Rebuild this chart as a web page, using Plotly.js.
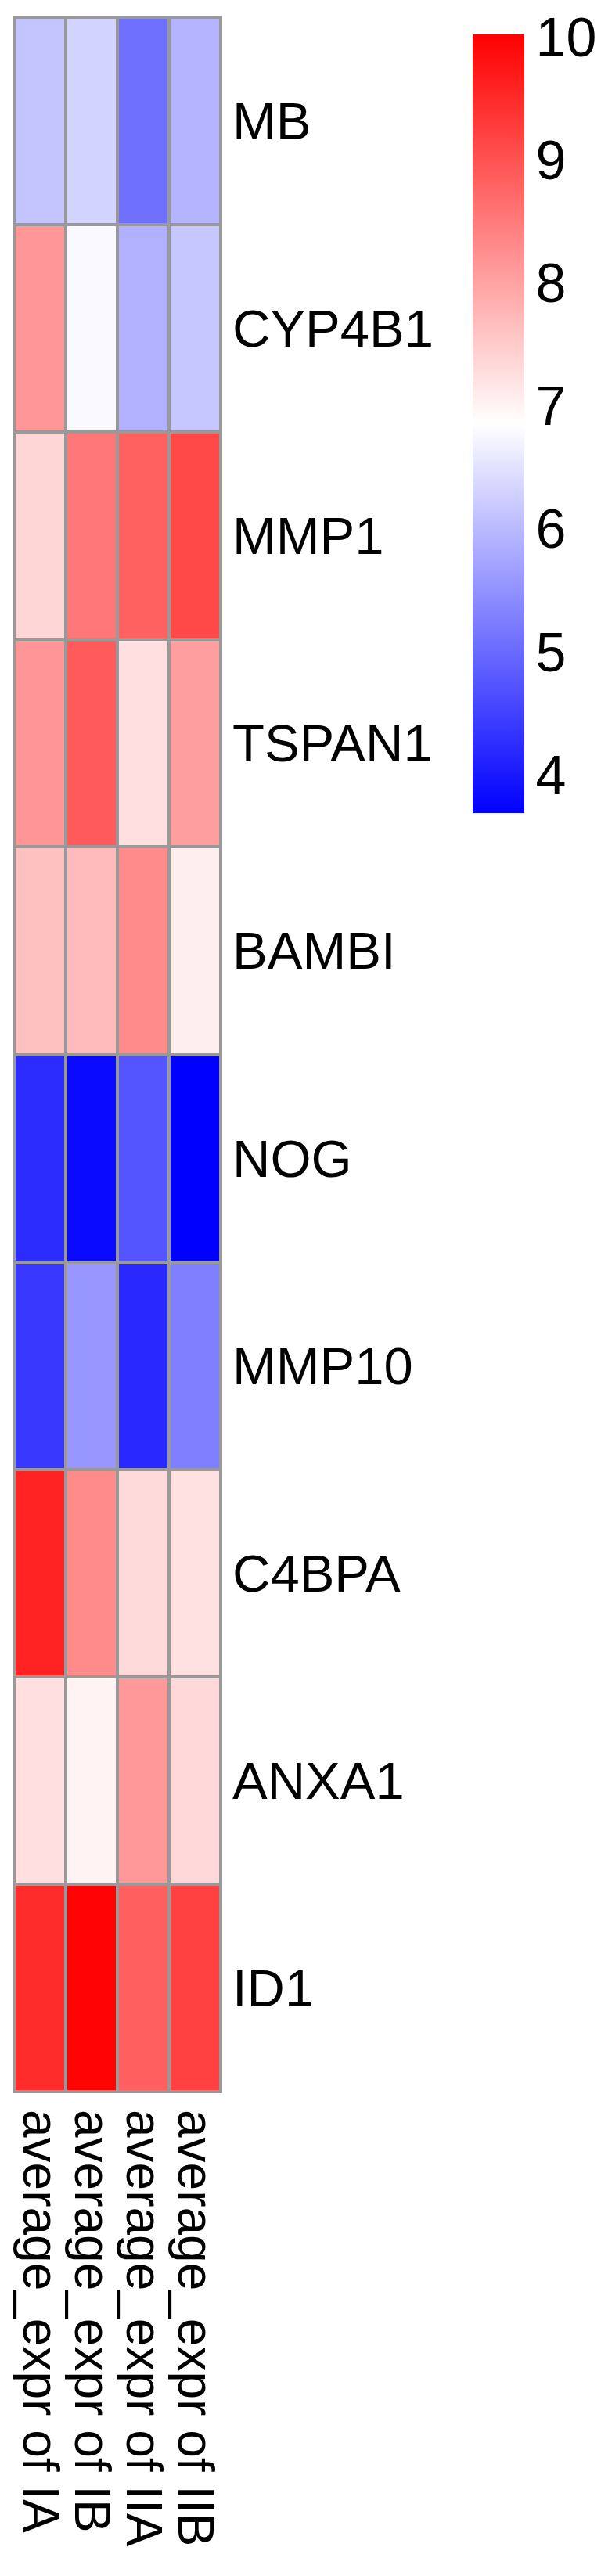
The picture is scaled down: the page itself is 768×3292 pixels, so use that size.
<!DOCTYPE html>
<html>
<head>
<meta charset="utf-8">
<script src="https://cdn.plot.ly/plotly-3.0.1.min.js"></script>
<style>
  html, body { margin: 0; padding: 0; background: #fff; }
  #chart { width: 768px; height: 3292px; }
</style>
</head>
<body>
<div id="chart"></div>
<script>
// samples (columns) and genes (rows, top to bottom)
var samples = ['average_expr of IA', 'average_expr of IB', 'average_expr of IIA', 'average_expr of IIB'];
var genes = ['MB', 'CYP4B1', 'MMP1', 'TSPAN1', 'BAMBI', 'NOG', 'MMP10', 'C4BPA', 'ANXA1', 'ID1'];

// expression per sample, one value per gene
var exprIA  = [6.12, 8.14, 7.36, 8.16, 7.64, 4.23, 4.38, 9.58, 7.25, 9.48];
var exprIB  = [6.31, 6.78, 8.55, 8.89, 7.70, 3.81, 5.57, 8.29, 7.01, 10.0];
var exprIIA = [5.08, 5.89, 8.81, 7.25, 8.29, 4.75, 4.19, 7.32, 8.12, 8.84];
var exprIIB = [5.92, 6.16, 9.11, 8.06, 7.06, 3.69, 5.27, 7.23, 7.33, 9.21];

var cbTicks = [4, 5, 6, 7, 8, 9, 10];

// build z as rows = genes
var cols = [exprIA, exprIB, exprIIA, exprIIB];
var z = genes.map(function (g, i) {
    return cols.map(function (c) { return c[i]; });
});

var font = 'Liberation Sans, Arial, sans-serif';

var trace = {
    type: 'heatmap',
    x: samples,
    y: genes,
    z: z,
    zmin: 3.69,
    zmax: 10.02,
    xgap: 4,
    ygap: 4,
    colorscale: [[0, '#0000FF'], [0.5, '#FFFFFF'], [1, '#FF0000']],
    colorbar: {
        thickness: 66,
        thicknessmode: 'pixels',
        len: 995,
        lenmode: 'pixels',
        x: (604 - 18) / 264,
        xanchor: 'left',
        y: (2673 - 44) / 2651,
        yanchor: 'top',
        xpad: 0,
        ypad: 0,
        outlinewidth: 0,
        ticks: '',
        tickvals: cbTicks,
        ticktext: cbTicks.map(String),
        tickfont: { family: font, size: 70, color: '#000' }
    },
    hoverinfo: 'none'
};

var layout = {
    width: 768,
    height: 3292,
    margin: { l: 18, r: 486, t: 22, b: 619 },
    paper_bgcolor: '#fff',
    plot_bgcolor: '#999999',
    showlegend: false,
    xaxis: {
        type: 'category',
        dtick: 1,
        ticks: '',
        showgrid: false,
        zeroline: false,
        tickangle: 90,
        ticklabelstandoff: 22,
        tickfont: { family: font, size: 64, color: '#000' },
        automargin: false
    },
    yaxis: {
        type: 'category',
        dtick: 1,
        autorange: 'reversed',
        side: 'right',
        ticks: '',
        showgrid: false,
        zeroline: false,
        ticklabelstandoff: 14,
        tickfont: { family: font, size: 67, color: '#000' },
        automargin: false
    },
    shapes: [{
        type: 'rect', xref: 'paper', yref: 'paper',
        x0: 0, x1: 1, y0: 0, y1: 1,
        line: { color: '#999999', width: 4 },
        fillcolor: 'rgba(0,0,0,0)'
    }]
};

Plotly.newPlot('chart', [trace], layout, { staticPlot: true });
</script>
</body>
</html>
